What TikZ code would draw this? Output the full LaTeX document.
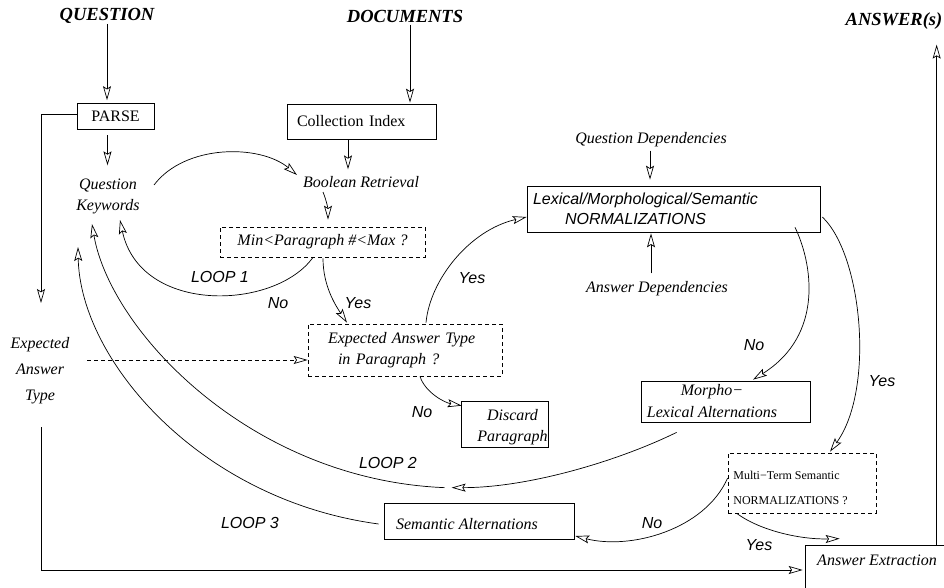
\documentclass[tikz,border=0pt]{standalone}
\usepackage{fontspec}
\setmainfont{Liberation Serif}
\newfontfamily\hv{Liberation Sans}
\usetikzlibrary{arrows.meta,calc}
\begin{document}
\begin{tikzpicture}[x=1pt,y=-1pt,
  line width=0.7pt,
  arr/.style={-{Stealth[open,length=14pt,width=8pt,inset=2.5pt]}},
  box/.style={draw,inner sep=0pt},
  dbox/.style={box,dash pattern=on 4pt off 3pt},
  dline/.style={dash pattern=on 4pt off 3pt},
  txt/.style={inner sep=0pt,font=\fontsize{16}{21}\selectfont\itshape},
  rom/.style={inner sep=0pt,font=\fontsize{16}{21}\selectfont},
  lbl/.style={inner sep=0pt,font=\fontsize{16}{20}\selectfont\hv\itshape},
  head/.style={inner sep=0pt,font=\fontsize{18.5}{22}\selectfont\bfseries\itshape},
  small/.style={inner sep=0pt,font=\fontsize{12}{25}\selectfont}
]
\useasboundingbox (0,0) rectangle (944,588);
\fill[white] (0,0) rectangle (944,588);
\clip (0,0) rectangle (944,588);

% inputs and output
\node[head] (question) at (107,16) {QUESTION};
\node[head] (documents) at (405,16) {DOCUMENTS};
\node[head] (answers) at (894,21) {ANSWER(s)};

% boxes
\node[box,rom,minimum width=77pt,minimum height=26pt] (parse) at (115.5,116.5) {PARSE};
\node[box,rom,inner xsep=10pt,text width=129pt,align=left,minimum height=35pt] (index) at (361.5,121.5) {Collection Index};
\node[dbox,txt,minimum width=205pt,minimum height=30pt] (range) at (322.5,242) {Min<Paragraph \#<Max ?};
\node[dbox,txt,inner xsep=20pt,text width=154pt,align=left,minimum height=52pt] (eat) at (405,350)
  {Expected Answer Type\\\hspace*{10pt}in Paragraph ?};
\node[box,minimum width=87pt,minimum height=46pt] (dp) at (504.5,424) {};
\node[txt,align=center] (dpt) at (512.5,427) {Discard\\Paragraph};
\node[box,lbl,inner xsep=6pt,text width=281pt,align=left,minimum height=46pt] (norm) at (673.5,209)
  {Lexical/Morphological/Semantic\\\hspace*{32pt}NORMALIZATIONS};
\node[box,minimum width=169pt,minimum height=41pt] (ml) at (725.5,401.5) {};
\node[txt,align=center,font=\fontsize{16}{22}\selectfont\itshape] (mlt) at (712,401) {Morpho−\\Lexical Alternations};
\node[dbox,minimum width=148pt,minimum height=60pt] (mt) at (802,483) {};
\node[small,align=left,anchor=west] (mtt) at (733,487.5) {Multi−Term Semantic\\NORMALIZATIONS ?};
\node[box,minimum width=190pt,minimum height=36pt] (sa) at (479,521) {};
\node[txt] (sat) at (467,524) {Semantic Alternations};
\node[box,minimum width=155pt,minimum height=55pt] (ae) at (882.5,572.5) {};
\node[txt] (aet) at (877,560) {Answer Extraction};

% free text items
\node[txt,align=center] (qk) at (108,196) {Question\\Keywords};
\node[txt] (br) at (361,182) {Boolean Retrieval};
\node[txt,align=center,font=\fontsize{16}{26}\selectfont\itshape] (eatl) at (40,371) {Expected\\Answer\\Type};
\node[txt] (qd) at (651,140) {Question Dependencies};
\node[txt] (ad) at (657,289) {Answer Dependencies};

% edge labels
\node[lbl] (l1) at (220,277) {LOOP 1};
\node[lbl] (no1) at (278,303) {No};
\node[lbl] (yes1) at (358,303) {Yes};
\node[lbl] (yes2) at (472,278) {Yes};
\node[lbl] (no2) at (422,412) {No};
\node[lbl] (l2) at (388,463) {LOOP 2};
\node[lbl] (l3) at (250,523) {LOOP 3};
\node[lbl] (no3) at (754,345) {No};
\node[lbl] (yes3) at (882,381) {Yes};
\node[lbl] (no4) at (652,523) {No};
\node[lbl] (yes4) at (759,545) {Yes};

% straight connectors
\coordinate (docfoot) at ($(documents.south)+(5,2)$);
\draw[arr,shorten >=3pt] (question.south) -- (question.south |- parse.north);
\draw[arr,shorten >=1pt] (docfoot) -- (docfoot |- index.north);
\draw[arr] ($(parse.south)+(-8,5.5)$) -- ($(parse.south)+(-8,35.5)$);
\draw[arr] ($(index.south)+(-13.5,1)$) -- ($(index.south)+(-13.5,30)$);
\draw[arr] ($(qd.south)+(-1,3)$) -- ($(norm.north)+(-23.5,-6)$);
\draw[arr] ($(ad.north)+(-6,-8)$) -- ($(norm.south)+(-22.5,1)$);
\draw[arr] ($(parse.west)+(0,-2.5)$) -| ($(eatl.center)+(1,-68)$);
\draw[arr,shorten >=2pt] ($(eatl.center)+(1,56)$) |- ($(ae.west)+(0,-2.5)$);
\draw[arr] ($(ae.north west)+(132,0)$) -- ($(ae.north west)+(132,-500)$);
\draw[arr,dline] ($(eatl.center)+(47,-11)$) -- ($(eat.west)+(0,10)$);

% curved connectors
\draw[arr] ($(qk.center)+(46,-11)$) .. controls +(31,-41) and +(-37,-31) .. ($(br.center)+(-64,-7)$);
\draw[arr] ($(br.center)+(-38,10)$) .. controls +(4,10) and +(0,-10) .. ($(range.north)+(5.5,-7)$);
\draw[arr] ($(range.south)+(-9.5,0)$) .. controls +(-38,53) and +(20,95) .. ($(qk.center)+(12,24)$);
\draw[arr] ($(range.south)+(0.5,1)$) .. controls +(0,27) and +(-12,-18) .. ($(eat.north)+(-58,-1)$);
\draw[arr] ($(eat.north)+(21,-1)$) .. controls +(4,-43) and +(-57,13) .. ($(norm.west)+(0,8)$);
\draw[arr] ($(eat.south)+(15,0)$) .. controls +(5,16) and +(-17,-3) .. ($(dp.north west)+(1,5)$);
\draw[arr] ($(norm.south)+(121.5,-5)$) .. controls +(17,35) and +(72,-45) .. ($(ml.north)+(27.5,-1)$);
\draw[arr] ($(norm.east)+(2,8)$) .. controls +(40,38) and +(45,-62) .. ($(mt.north)+(28,-1)$);
\coordinate (loop2) at ($(sa.north west)+(68,-15)$);
\draw[arr] ($(ml.south west)+(36,10)$) .. controls +(-57,28) and +(78,0) .. (loop2);
\draw[arr] ($(loop2)+(-7,0)$) .. controls +(-195,-8) and +(18,106) .. ($(qk.center)+(-16,28)$);
\draw[arr] ($(sa.west)+(-5,3)$) .. controls +(-179,-24) and +(2,113) .. ($(qk.center)+(-30,51)$);
\draw[arr] ($(mt.west)+(0,-5)$) .. controls +(-23,52) and +(55,14) .. ($(sa.east)+(1,15)$);
\draw[arr] ($(mt.south west)+(9,0)$) .. controls +(23,17) and +(-40,1) .. ($(ae.north west)+(35,-6)$);
\end{tikzpicture}
\end{document}
